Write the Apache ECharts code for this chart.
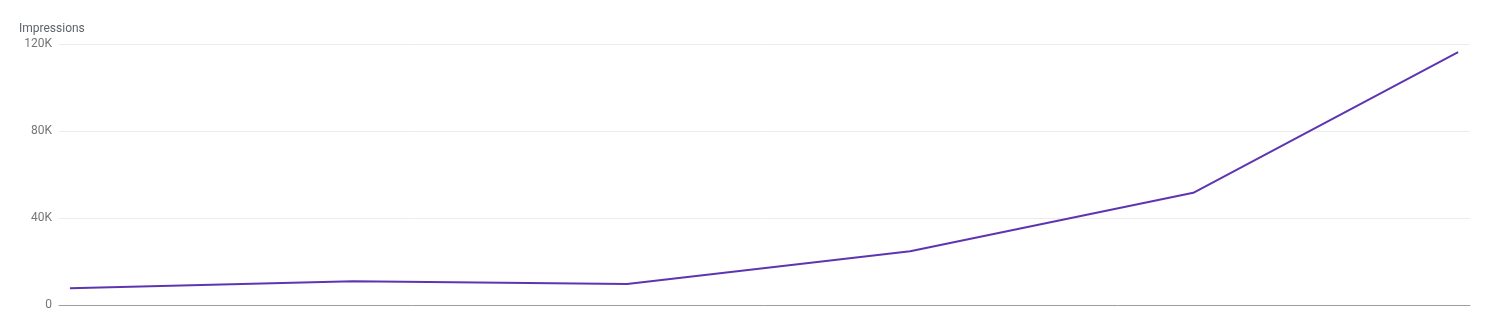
<!DOCTYPE html>
<html>
<head>
<meta charset="utf-8">
<script src="https://cdn.jsdelivr.net/npm/echarts@6/dist/echarts.min.js"></script>
<style>
html,body{margin:0;padding:0;background:#fff;}
#chart{width:1506px;height:322px;}
</style>
</head>
<body>
<div id="chart"></div>
<script>
var dates = ['2023-10-01', '2023-11-01', '2023-12-01', '2024-01-01', '2024-02-01', '2024-03-01'];
var impressions = [7700, 10900, 9700, 24700, 51600, 116300];
var yTicks = [0, 40000, 80000, 120000];
var yTickLabels = ['0', '40K', '80K', '120K'];
var seriesName = 'Impressions';

var DAY = 86400000;
var chart = echarts.init(document.getElementById('chart'));
chart.setOption({
  animation: false,
  grid: { left: 59, right: 36, top: 44, bottom: 17, containLabel: false },
  xAxis: {
    type: 'time',
    min: function (v) { return v.min - 1.2 * DAY; },
    max: function (v) { return v.max + 1.3 * DAY; },
    axisLine: { show: true, lineStyle: { color: '#9e9e9e', width: 1 } },
    axisTick: { show: false },
    axisLabel: { show: false },
    splitLine: { show: false }
  },
  yAxis: {
    type: 'value',
    min: yTicks[0],
    max: yTicks[yTicks.length - 1],
    interval: yTicks[1] - yTicks[0],
    name: seriesName,
    nameLocation: 'end',
    nameGap: 9,
    nameTextStyle: { color: '#5f6368', fontSize: 12, fontFamily: 'Roboto', align: 'left', padding: [0, 0, 0, -40] },
    axisLine: { show: false },
    axisTick: { show: false },
    axisLabel: {
      color: '#757575', fontSize: 12, fontFamily: 'Roboto', margin: 7,
      formatter: function (v) { var i = yTicks.indexOf(v); return i >= 0 ? yTickLabels[i] : ''; }
    },
    splitLine: { lineStyle: { color: '#ececec', width: 1 } }
  },
  series: [{
    name: seriesName,
    type: 'line',
    data: dates.map(function (d, i) { return [d, impressions[i]]; }),
    showSymbol: false,
    symbol: 'none',
    lineStyle: { color: '#5e35b1', width: 2 },
    itemStyle: { color: '#5e35b1' }
  }]
});
</script>
</body>
</html>
